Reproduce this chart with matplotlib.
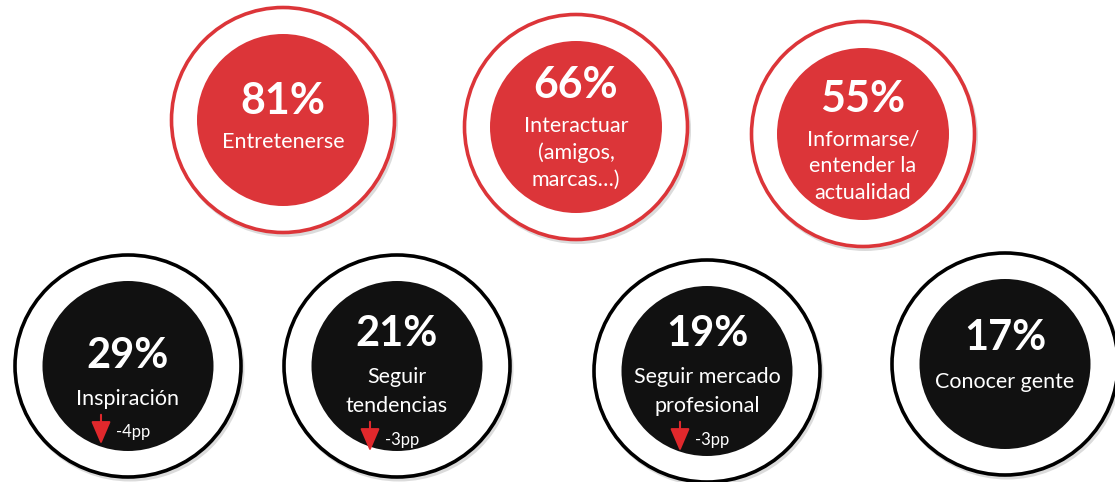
import matplotlib
matplotlib.use("Agg")
import matplotlib.pyplot as plt
from matplotlib.patches import Ellipse

plt.rcParams['font.family'] = ['Lato', 'DejaVu Sans']

# Data: top row (red) and bottom row (black)
top_values = ["81%", "66%", "55%"]
top_labels = ["Entretenerse", "Interactuar\n(amigos,\nmarcas…)", "Informarse/\nentender la\nactualidad"]

bottom_values = ["29%", "21%", "19%", "17%"]
bottom_labels = ["Inspiración", "Seguir\ntendencias", "Seguir mercado\nprofesional", "Conocer gente"]
bottom_changes = ["-4pp", "-3pp", "-3pp", None]

RED = '#DC3539'
BLACK = '#111111'
ARROW_RED = '#E0282C'

# layout (pixels)
top_centers = [(283, 120), (576, 127), (863, 134)]
top_num_dy = [-22, -45, -39]
bottom_centers = [(128, 366), (397, 366), (707, 371), (1005, 364)]
bottom_num_dy = [-14, -36, -41, -29]

fig = plt.figure(figsize=(11.15, 4.82), dpi=100)
ax = fig.add_axes([0, 0, 1, 1])
ax.set_xlim(0, 1115)
ax.set_ylim(482, 0)
ax.axis('off')


def badge(cx, cy, value, label, num_dy, fill, ring, outer, inner, num_size,
          first_gap, spacing, change=None):
    # soft shadow under outer ring
    ax.add_patch(Ellipse((cx + 2, cy + 3), outer[0] + 3, outer[1] + 3, color='#999999', alpha=0.35, lw=0, zorder=1))
    ax.add_patch(Ellipse((cx, cy), outer[0], outer[1], facecolor='white', edgecolor=ring, lw=2.6, zorder=2))
    ax.add_patch(Ellipse((cx, cy), inner[0], inner[1], facecolor=fill, edgecolor='none', zorder=3))
    ny = cy + num_dy
    ax.text(cx, ny, value, color='white', fontsize=num_size, fontweight='bold',
            ha='center', va='center_baseline', zorder=5)
    y = ny + first_gap
    for ln in label.split("\n"):
        ax.text(cx, y, ln, color='white', fontsize=15.5, ha='center', va='center_baseline', zorder=5)
        y += spacing
    if change:
        dy = y - spacing + 34
        ax.text(cx - 12, dy, change, color='white', fontsize=12, ha='left', va='center_baseline', zorder=5)
        ax.annotate('', xy=(cx - 27, dy + 16), xytext=(cx - 27, dy - 19),
                    arrowprops=dict(arrowstyle='-|>,head_width=0.6,head_length=1.4',
                                    color=ARROW_RED, lw=1.5), zorder=6)


for (cx, cy), v, l, d in zip(top_centers, top_values, top_labels, top_num_dy):
    badge(cx, cy, v, l, d, RED, RED, (223, 225), (172, 172), 31, 42, 27)

for (cx, cy), v, l, d, c in zip(bottom_centers, bottom_values, bottom_labels, bottom_num_dy, bottom_changes):
    badge(cx, cy, v, l, d, BLACK, '#000000', (226, 222), (171, 170), 30, 45, 29, c)

fig.savefig("out.png", dpi=100)
